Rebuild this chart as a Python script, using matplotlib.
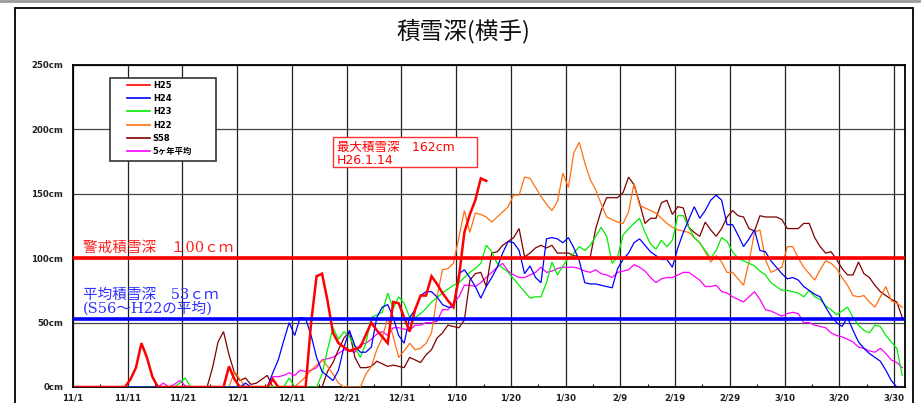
import matplotlib
matplotlib.use('Agg')
import matplotlib.pyplot as plt
from matplotlib.patches import Rectangle
from matplotlib.lines import Line2D

plt.rcParams['font.family'] = ['DejaVu Sans', 'Noto Sans CJK JP']

# ---------------- data ----------------
title = '積雪深(横手)'
tick_days = [0, 10, 20, 30, 40, 50, 60, 70, 80, 90, 100, 110, 120, 130, 140, 150]
tick_labels = ['11/1', '11/11', '11/21', '12/1', '12/11', '12/21', '12/31', '1/10',
               '1/20', '1/30', '2/9', '2/19', '2/29', '3/10', '3/20', '3/30']
y_ticks = [0, 50, 100, 150, 200, 250]
y_tick_labels = ['0cm', '50cm', '100cm', '150cm', '200cm', '250cm']

series_names = ['H25', 'H24', 'H23', 'H22', 'S58', '5ヶ年平均']

h25_days = [0, 9, 10, 11, 12, 13, 14, 15, 27, 28, 29, 30, 35, 36, 37, 42, 43, 44, 45, 46, 47, 48, 50,
            52, 54, 55, 56, 57, 58, 59, 60, 61, 62, 63, 64, 65, 66, 67, 68, 69, 70, 71, 72, 73, 74, 75]
h25_vals = [0, 0, 6, 15, 34, 23, 8, 0, 0, 16, 6, 0, 0, 6, 0, 0, 50, 86, 88, 67, 42, 34, 28,
            31, 50, 44, 39, 34, 66, 65, 54, 43, 60, 71, 71, 86, 80, 73, 67, 62, 85, 120, 134, 145, 162, 160]

h24_days = [0, 30, 31, 32, 35, 36, 37, 38, 39, 40, 41, 42, 43, 44, 45, 47, 48, 49, 50, 51, 52, 53, 54,
            55, 56, 57, 58, 59, 60, 61, 62, 63, 64, 65, 66, 67, 68, 69, 70, 71, 72, 73, 74, 75, 76, 77,
            78, 79, 80, 81, 82, 83, 84, 85, 86, 87, 88, 89, 90, 91, 92, 93, 94, 95, 96, 97, 98, 99, 100,
            101, 102, 103, 104, 105, 106, 107, 108, 109, 110, 111, 112, 113, 114, 115, 116, 117, 118, 119,
            120, 121, 122, 123, 124, 125, 126, 127, 128, 129, 130, 131, 132, 133, 134, 135, 136, 137, 138,
            139, 140, 141, 142, 143, 144, 145, 146, 147, 148, 149, 150]
h24_vals = [0, 0, 3, 0, 0, 11, 21, 36, 50, 40, 54, 53, 40, 23, 12, 5, 13, 31, 44, 32, 27, 27, 31,
            54, 62, 64, 54, 40, 34, 54, 60, 71, 74, 74, 70, 64, 62, 62, 88, 91, 85, 78, 69, 78, 85, 93,
            104, 113, 112, 106, 88, 94, 85, 81, 115, 116, 115, 112, 116, 108, 98, 81, 80, 80, 79, 78, 77, 92, 99,
            104, 112, 115, 110, 105, 102, 99, 99, 93, 108, 120, 130, 140, 131, 137, 145, 149, 145, 126,
            126, 118, 109, 115, 122, 106, 105, 98, 93, 88, 84, 85, 83, 78, 75, 72, 70, 62, 55,
            50, 47, 54, 44, 35, 30, 26, 23, 20, 13, 5, 0]

h23_days = [0, 18, 19, 20, 21, 38, 39, 40, 44, 45, 46, 47, 48, 49, 50, 51, 52, 53, 54, 55, 56, 57, 58,
            59, 60, 61, 62, 63, 64, 65, 67, 68, 69, 70, 71, 72, 73, 74, 75, 76, 77, 79, 81, 83, 84, 85,
            86, 87, 88, 89, 90, 91, 92, 93, 94, 96, 97, 98, 99, 100, 101, 103, 104, 105, 106, 107, 108,
            109, 110, 111, 112, 113, 114, 115, 116, 117, 118, 119, 120, 121, 122, 123, 124, 125, 126, 127,
            128, 129, 130, 131, 132, 133, 134, 135, 136, 137, 138, 139, 140, 141, 142, 143, 144, 145, 146,
            147, 148, 149, 150, 151]
h23_vals = [0, 0, 3, 7, 0, 0, 7, 0, 0, 10, 29, 46, 37, 43, 39, 31, 23, 34, 54, 56, 58, 73, 61,
            70, 65, 54, 54, 57, 61, 66, 73, 76, 79, 81, 85, 89, 92, 96, 110, 105, 96, 89, 79, 69, 70, 70,
            81, 97, 87, 94, 100, 104, 109, 106, 110, 124, 117, 96, 101, 118, 123, 131, 120, 111, 107, 114, 109,
            114, 133, 133, 124, 116, 112, 106, 100, 106, 116, 113, 105, 100, 98, 96, 94, 90, 87, 81,
            78, 75, 75, 74, 73, 70, 75, 70, 68, 63, 60, 56, 59, 62, 54, 48, 44, 42, 48,
            47, 40, 35, 30, 9]

h22_days = [0, 28, 29, 30, 31, 40, 42, 43, 44, 45, 46, 47, 48, 49, 52, 53, 54, 55, 56, 57, 58, 59, 60,
            61, 62, 63, 64, 65, 66, 67, 68, 69, 70, 71, 72, 73, 74, 75, 76, 77, 78, 79, 80, 81, 82, 83,
            84, 85, 86, 87, 88, 89, 90, 91, 92, 93, 94, 95, 96, 97, 98, 99, 100, 101, 102, 103, 104, 105,
            106, 107, 108, 109, 110, 111, 112, 113, 114, 115, 116, 117, 118, 119, 120, 121, 122, 123, 124,
            125, 126, 127, 128, 129, 130, 131, 132, 133, 134, 135, 136, 137, 138, 139, 140, 141, 142, 143,
            144, 145, 146, 147, 148, 149, 150, 151]
h22_vals = [0, 0, 12, 6, 0, 0, 8, 13, 17, 21, 16, 10, 3, 0, 0, 10, 16, 29, 38, 54, 39, 23, 28,
            34, 29, 30, 34, 42, 70, 91, 92, 96, 116, 137, 120, 135, 134, 132, 128, 132, 136, 140, 149, 149, 163, 162,
            155, 148, 142, 137, 144, 166, 155, 182, 190, 174, 161, 153, 142, 132, 130, 128, 127, 136, 158, 141, 139, 137,
            135, 131, 127, 124, 122, 121, 120, 116, 112, 105, 97, 102, 97, 89, 89, 84, 79, 97, 120,
            122, 99, 89, 91, 93, 109, 109, 100, 93, 88, 83, 91, 98, 96, 92, 85, 79, 71, 70,
            71, 66, 62, 70, 78, 67, 65, 62]

s58_days = [0, 24, 25, 26, 27, 28, 29, 30, 31, 32, 33, 34, 35, 36, 45, 46, 47, 48, 49, 50, 51, 52, 53,
            54, 55, 56, 57, 58, 59, 60, 61, 62, 63, 64, 65, 66, 67, 68, 69, 70, 71, 72, 73, 74, 75, 76,
            77, 78, 79, 80, 81, 82, 83, 84, 85, 86, 87, 88, 89, 90, 91, 92, 93, 94, 95, 96, 97, 98, 99,
            100, 101, 102, 103, 104, 105, 106, 107, 108, 109, 110, 111, 112, 113, 114, 115, 116, 117, 118,
            119, 120, 121, 122, 123, 124, 125, 126, 127, 128, 129, 130, 131, 132, 133, 134, 135, 136, 137,
            138, 139, 140, 141, 142, 143, 144, 145, 146, 147, 148, 149, 150, 151]
s58_vals = [0, 0, 15, 35, 43, 25, 11, 5, 7, 2, 3, 6, 9, 0, 0, 12, 19, 29, 38, 43, 23, 15, 15,
            16, 20, 18, 16, 17, 16, 15, 23, 21, 19, 25, 29, 38, 42, 48, 47, 46, 52, 83, 88, 89, 78, 104,
            105, 110, 113, 116, 123, 101, 104, 108, 110, 108, 110, 104, 104, 104, 102, 101, 101, 101, 123, 137, 147, 147, 147,
            151, 163, 157, 143, 127, 131, 131, 143, 145, 134, 140, 139, 124, 120, 117, 128, 122, 117, 123,
            132, 137, 133, 132, 123, 121, 133, 132, 132, 132, 130, 123, 123, 123, 127, 127, 116, 109, 104,
            105, 99, 92, 87, 87, 97, 88, 85, 79, 74, 71, 68, 66, 54]

avg5_days = [0, 15, 16, 17, 18, 19, 20, 21, 35, 36, 37, 38, 39, 40, 41, 42, 43, 44, 45, 46, 47, 48, 49,
             50, 51, 52, 53, 54, 55, 56, 57, 58, 59, 60, 61, 62, 63, 64, 65, 66, 67, 68, 69, 70, 71, 72,
             73, 74, 75, 76, 77, 78, 79, 80, 81, 82, 83, 84, 85, 86, 87, 88, 89, 90, 91, 92, 93, 94, 95,
             96, 97, 98, 99, 100, 101, 102, 103, 104, 105, 106, 107, 108, 109, 110, 111, 112, 113, 114, 115,
             116, 117, 118, 119, 120, 121, 122, 123, 124, 125, 126, 127, 128, 129, 130, 131, 132, 133, 134,
             135, 136, 137, 138, 139, 140, 141, 142, 143, 144, 145, 146, 147, 148, 149, 150, 151]
avg5_vals = [0, 0, 3, 0, 2, 5, 1, 0, 0, 8, 8, 9, 11, 9, 13, 12, 13, 15, 21, 22, 23, 26, 29,
             28, 27, 33, 34, 37, 41, 43, 40, 46, 46, 45, 44, 48, 48, 50, 50, 51, 60, 60, 65, 70, 79, 79,
             78, 81, 85, 89, 93, 96, 90, 87, 85, 85, 87, 89, 93, 89, 90, 92, 93, 93, 93, 92, 90, 89, 91,
             88, 87, 85, 89, 90, 91, 95, 93, 90, 85, 81, 84, 85, 85, 87, 89, 89, 86, 83, 78,
             78, 79, 74, 73, 70, 68, 66, 70, 74, 68, 60, 59, 57, 55, 57, 58, 57, 50, 50,
             48, 47, 46, 42, 40, 39, 37, 35, 31, 30, 28, 27, 30, 26, 21, 19, 15]

warning_level = 100
average_level = 53
max_label = '最大積雪深\u3000162cm'
max_date = 'H26.1.14'
warning_label = '警戒積雪深\u3000１00ｃｍ'
average_label_1 = '平均積雪深\u300053ｃｍ'
average_label_2 = '(S56～H22の平均)'

# ---------------- figure ----------------
W, H = 921, 403
fig = plt.figure(figsize=(W / 100, H / 100), dpi=100)
fig.patch.set_facecolor('white')

AX_L, AX_R, AX_T, AX_B = 73, 905, 65, 387
ax = fig.add_axes([AX_L / W, (H - AX_B) / H, (AX_R - AX_L) / W, (AX_B - AX_T) / H])

# outer frame and top grey line
fig.add_artist(Rectangle((15 / W, -0.1), (913 - 15) / W, (H - 8) / H + 0.1,
                         transform=fig.transFigure, fill=False, edgecolor='black', lw=1.3))
fig.add_artist(Line2D([0, 1], [1 - 1 / H, 1 - 1 / H], transform=fig.transFigure,
                      color='#999999', lw=2))

fig.text(463 / W, 1 - 31 / H, title, ha='center', va='center', fontsize=17,
         family=['Noto Sans CJK JP', 'DejaVu Sans'], color='#111111')

colors = ['#ff0000', '#0000ff', '#00ee00', '#ff7010', '#800000', '#ff00ff']
widths = [1.8, 0.9, 0.9, 0.9, 0.9, 0.9]
all_days = [h25_days, h24_days, h23_days, h22_days, s58_days, avg5_days]
all_vals = [h25_vals, h24_vals, h23_vals, h22_vals, s58_vals, avg5_vals]

handles = [None] * 6
for i in [5, 4, 3, 2, 1, 0]:
    xs = [d + 0.5 for d in all_days[i]]
    ax.plot(xs, all_vals[i], color=colors[i], lw=widths[i], zorder=3 + (5 - i) * 0.1,
            solid_joinstyle='miter')
    handles[i] = Line2D([], [], color=colors[i], lw=1.2)

ax.axhline(warning_level, color='#ff0000', lw=2.6, zorder=4)
ax.axhline(average_level, color='#0000ff', lw=2.6, zorder=4)

ax.set_xlim(0, 152)
ax.set_ylim(0, 250)
ax.set_xticks(tick_days)
ax.set_xticklabels(tick_labels)
ax.set_xticks([d + 5 for d in tick_days[:-1]], minor=True)
ax.set_yticks(y_ticks)
ax.set_yticklabels(y_tick_labels)
ax.grid(axis='x', which='major', color='#222222', lw=0.9, zorder=1)
ax.grid(axis='y', which='major', color='#444444', lw=0.9, zorder=1)
ax.tick_params(axis='both', which='major', length=0)
ax.tick_params(axis='x', which='major', pad=5)
ax.tick_params(axis='y', which='major', pad=7)
ax.tick_params(axis='x', which='minor', direction='in', length=2.5, width=0.8, color='black')
for lab in ax.get_xticklabels() + ax.get_yticklabels():
    lab.set_fontsize(6.2)
    lab.set_fontweight('bold')
    lab.set_color('#222222')
for sp in ax.spines.values():
    sp.set_color('black')
    sp.set_linewidth(1.3)

# legend: frame + entries
tr = ax.transAxes
def axx(px):
    return (px - AX_L) / (AX_R - AX_L)
def axy(py):
    return (AX_B - py) / (AX_B - AX_T)

ax.add_patch(Rectangle((axx(110), axy(161)), axx(216) - axx(110), axy(78) - axy(161),
                       transform=tr, facecolor='white', edgecolor='#333333', lw=1.2, zorder=6))
ax.legend(handles, series_names, loc='upper left', bbox_to_anchor=(axx(127), axy(81)),
          bbox_transform=tr, frameon=False, borderpad=0, borderaxespad=0,
          handlelength=2.7, handletextpad=0.4, labelspacing=0.5,
          prop={'size': 6, 'weight': 'bold', 'family': ['DejaVu Sans', 'Noto Sans CJK JP']}
          ).set_zorder(7)

# max annotation box
ax.add_patch(Rectangle((axx(333), axy(167)), axx(477) - axx(333), axy(137) - axy(167),
                       transform=tr, facecolor='white', edgecolor='#ff3030', lw=1.0, zorder=6))
ax.text(axx(337), axy(147), max_label, transform=tr, ha='left', va='center', color='#ff0000',
        fontsize=9, zorder=7)
ax.text(axx(337), axy(161), max_date, transform=tr, ha='left', va='center', color='#ff0000',
        fontsize=9, zorder=7)

serif_cjk = ['DejaVu Serif', 'Noto Sans CJK JP']
ax.text(axx(83), axy(248), warning_label, transform=tr, ha='left', va='center',
        color='#ff2020', fontsize=10.5, family=serif_cjk, zorder=7)
ax.text(axx(83), axy(295), average_label_1, transform=tr, ha='left', va='center',
        color='#3030ff', fontsize=10.5, family=serif_cjk, zorder=7)
ax.text(axx(83), axy(308.5), average_label_2, transform=tr, ha='left', va='center',
        color='#3030ff', fontsize=10.5, family=serif_cjk, zorder=7)

fig.savefig('out.png', dpi=100, facecolor='white')
